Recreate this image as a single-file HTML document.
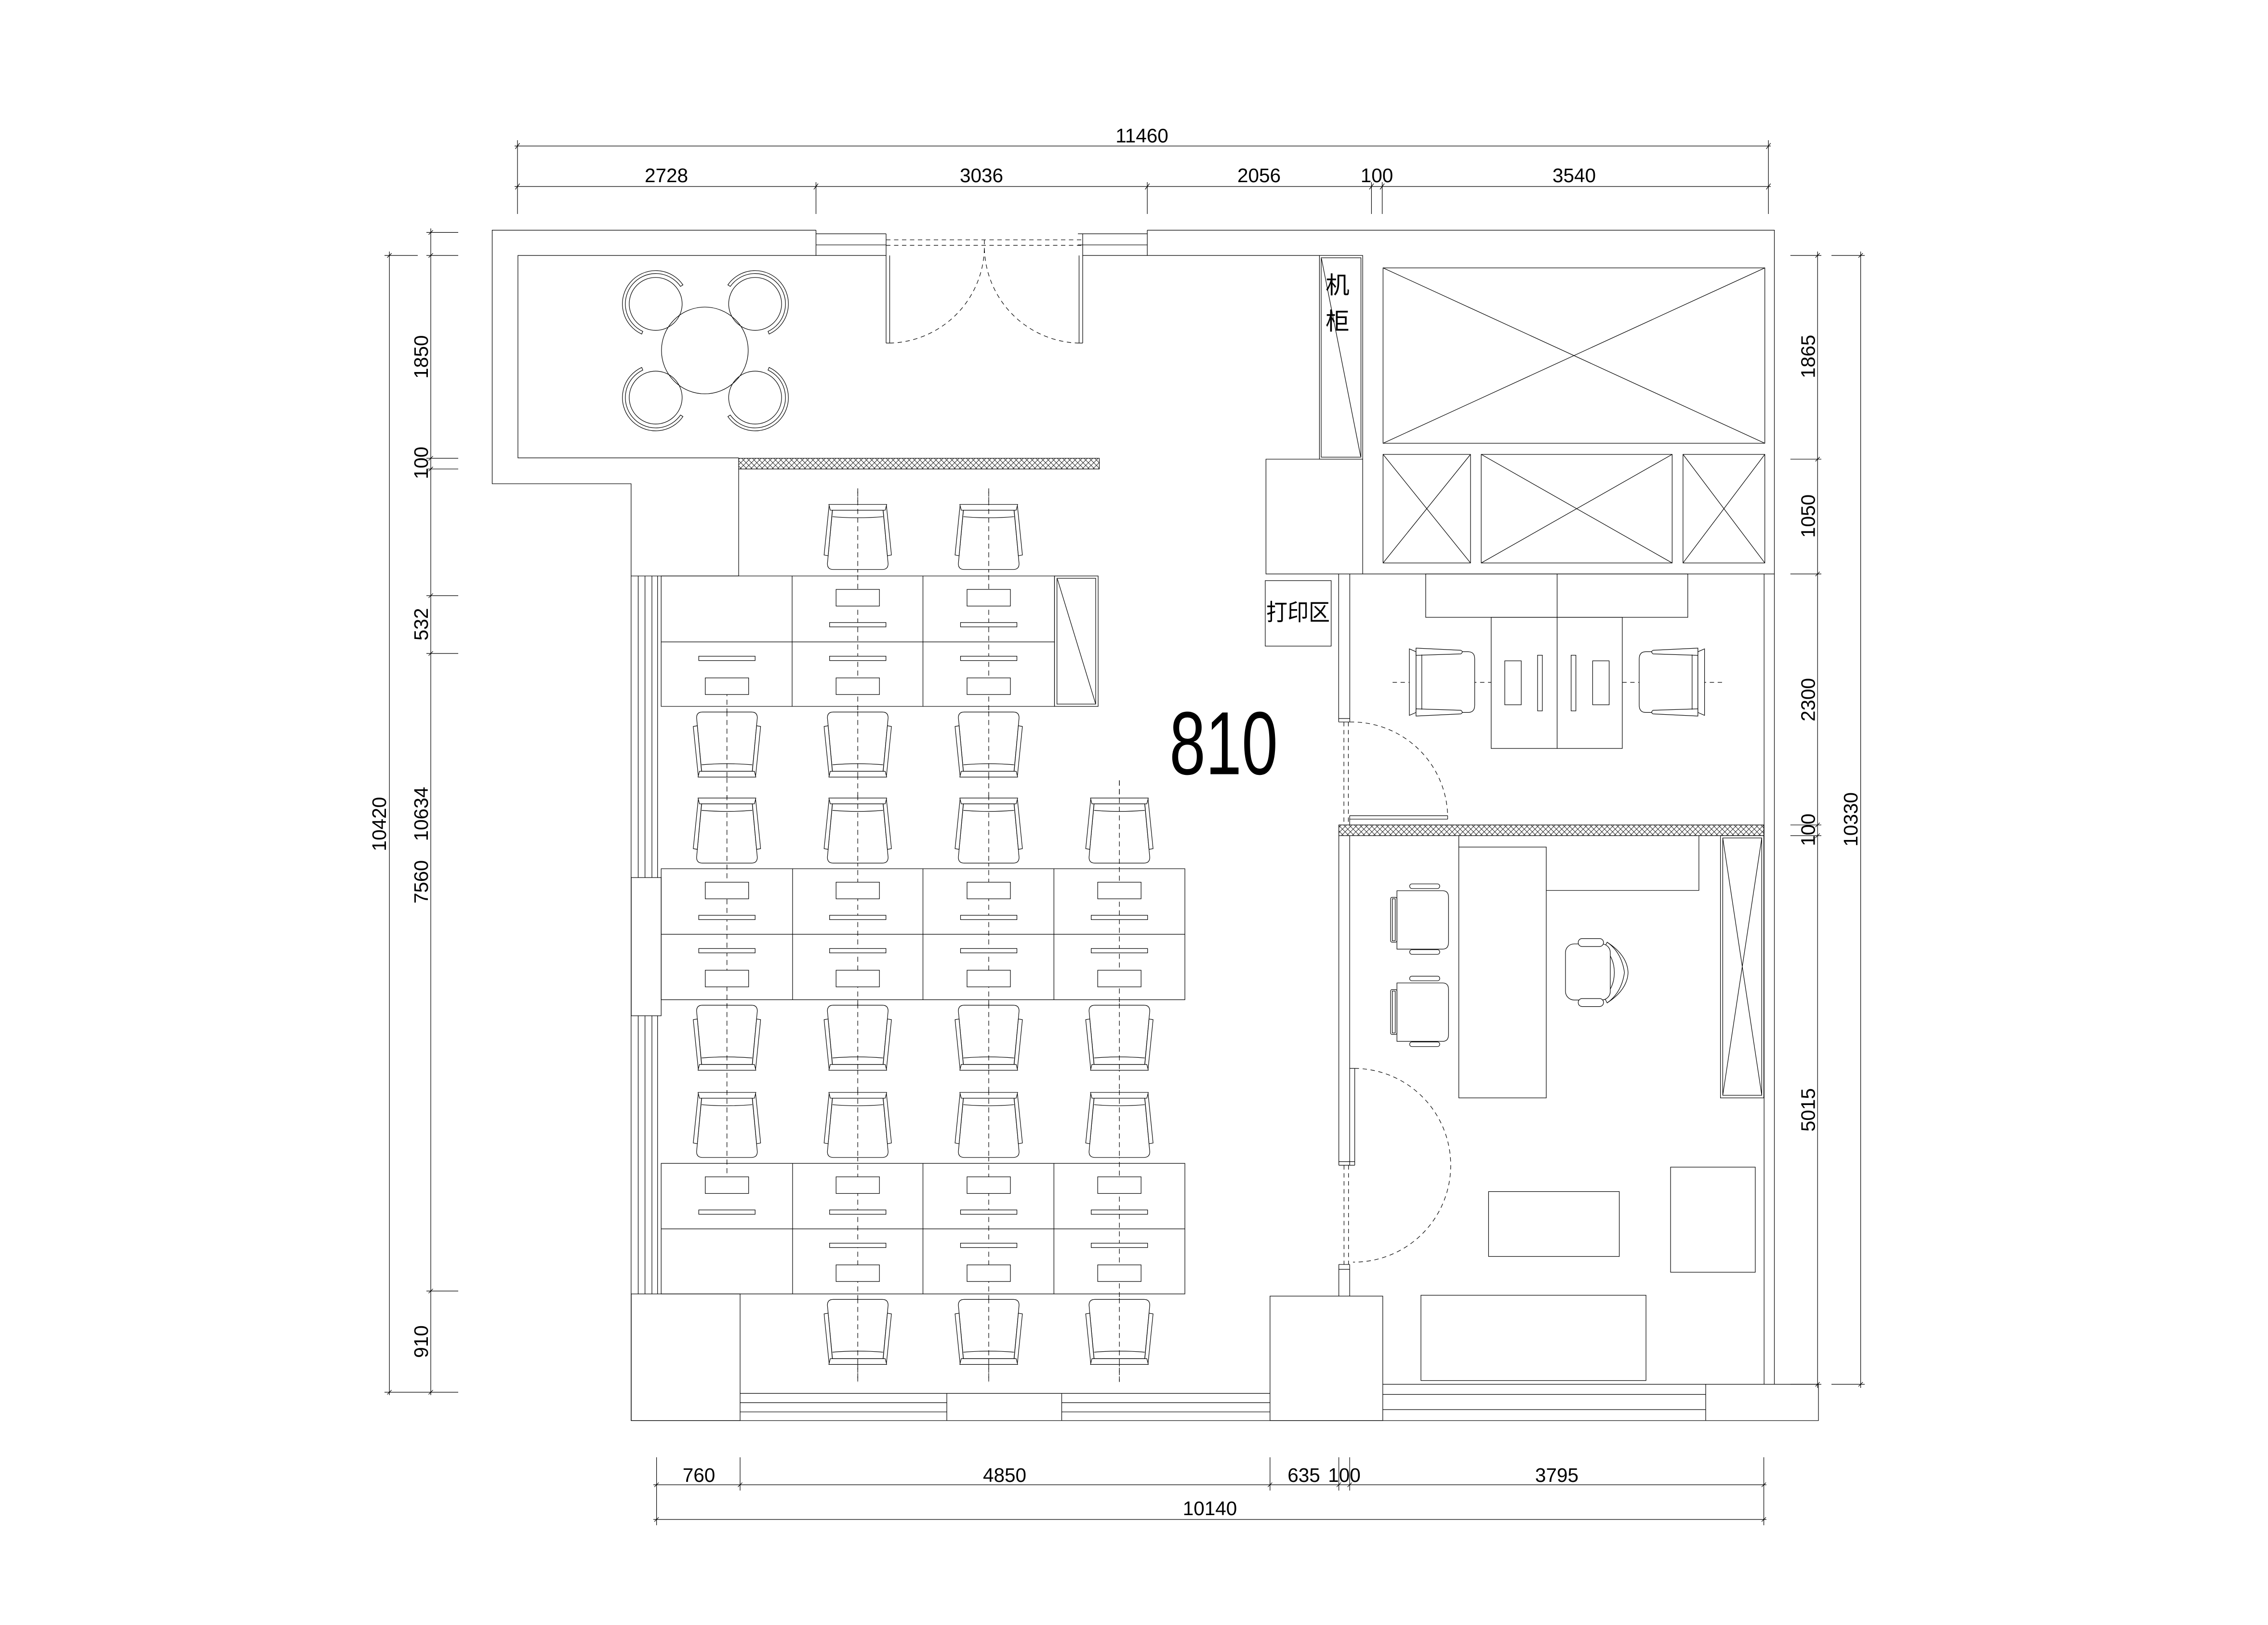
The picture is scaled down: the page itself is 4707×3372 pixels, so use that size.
<!DOCTYPE html>
<html><head><meta charset="utf-8"><style>
html,body{margin:0;padding:0;background:#fff;}
svg{display:block;}
text{font-family:"Liberation Sans","Noto Sans CJK SC",sans-serif;fill:#000;}
</style></head><body>
<svg xmlns="http://www.w3.org/2000/svg" width="4707" height="3372" viewBox="0 0 1569 1124">
<defs>
<pattern id="hat" patternUnits="userSpaceOnUse" width="3.7" height="3.7">
<path d="M0,0L3.7,3.7M3.7,0L0,3.7" stroke="#000" stroke-width="0.3"/>
</pattern>
<g id="chUp" fill="#fff" stroke="#000" stroke-width="0.4">
<path d="M-17.5,41 L-21,4 Q-21,0 -17,0 L17,0 Q21,0 21,4 L17.5,41 Z"/>
<path d="M-17.5,36.5 Q0,35 17.5,36.5" fill="none"/>
<path d="M-23.3,10 L-20.5,9.5 L-17.3,44 L-19.8,44.5 Z"/>
<path d="M23.3,10 L20.5,9.5 L17.3,44 L19.8,44.5 Z"/>
<path d="M-19,41 L19,41 L20,45 L-20,45 Z"/>
</g>
<g id="arm" fill="#fff" stroke="#000" stroke-width="0.4">
<path d="M-18,-21 L18,-21 Q22.6,-21 22.6,-16 L22.6,16 Q22.6,21 18,21 L-18,21 Z"/>
<path d="M-22.6,-23 L-18,-21 L-18,21 L-22.6,23 Z"/>
<path d="M-18,-23.5 L13,-22 Q15,-21 13,-19.5 L-18,-18.5 Z"/>
<path d="M-18,23.5 L13,22 Q15,21 13,19.5 L-18,18.5 Z"/>
<path d="M-14,-19 L-14,19" fill="none"/>
</g>
<g id="guest" fill="#fff" stroke="#000" stroke-width="0.4">
<path d="M-15.6,-19.6 L16,-19.6 Q20.1,-19.6 20.1,-15 L20.1,16 Q20.1,20.8 16,20.8 L-15.6,20.8 Z"/>
<rect x="-20" y="-15" width="4.4" height="31" rx="1"/>
<rect x="-18.8" y="-14" width="2" height="29"/>
<rect x="-6.8" y="-24.3" width="20.8" height="3.2" rx="1.5"/>
<rect x="-6.8" y="21.2" width="20.8" height="3.2" rx="1.5"/>
</g>
<g id="rarc" fill="none" stroke="#000" stroke-width="0.4">
<path d="M-20.3,5.4 A21 21 0 1 1 20.3,5.4 L22.2,6 A23 23 0 1 0 -22.2,6 Z"/>
</g>
</defs>
<rect width="1569" height="1124" fill="#fff"/>
<g fill="none" stroke="#000" stroke-width="0.4">
<!-- top dims -->
<path d="M356,101H1225M356,129H1225"/>
<path d="M358,97V148M564.5,126V148M793.7,126V148M948.8,126V148M956.2,126V148M1223.4,97V148"/>
<path d="M356.5,103L359.5,99M356.5,131L359.5,127M563,131L566,127M792.2,131L795.2,127M947.3,131L950.3,127M954.7,131L957.7,127M1221.9,103L1224.9,99M1221.9,131L1224.9,127"/>
<!-- left dims -->
<path d="M269.4,174V965M298,158V965"/>
<path d="M266,176.7H289M266,963H317M295,160.8H317M295,176.7H317M295,317H317M295,324.4H317M295,412H317M295,452H317M295,893H317"/>
<path d="M267.9,178.2L270.9,175.2M267.9,964.5L270.9,961.5M296.5,162.3L299.5,159.3M296.5,178.2L299.5,175.2M296.5,318.5L299.5,315.5M296.5,325.9L299.5,322.9M296.5,413.5L299.5,410.5M296.5,453.5L299.5,450.5M296.5,894.5L299.5,891.5M296.5,964.5L299.5,961.5"/>
<!-- right dims -->
<path d="M1257.4,174V960M1287.2,174V960"/>
<path d="M1238.6,176.7H1260M1238.6,317.6H1260M1238.6,397H1260M1238.6,570.6H1260M1238.6,578H1260M1238.6,957.5H1260M1267,176.7H1290M1267,957.5H1290"/>
<path d="M1255.9,178.2L1258.9,175.2M1255.9,319.1L1258.9,316.1M1255.9,398.5L1258.9,395.5M1255.9,572.1L1258.9,569.1M1255.9,579.5L1258.9,576.5M1255.9,959L1258.9,956M1285.7,178.2L1288.7,175.2M1285.7,959L1288.7,956"/>
<!-- bottom dims -->
<path d="M452,1027H1222M452,1051H1222"/>
<path d="M454.2,1008V1055M512,1008V1031M878.6,1008V1031M926.2,1008V1031M933.7,1008V1031M1220.2,1008V1055"/>
<path d="M452.7,1028.5L455.7,1025.5M510.5,1028.5L513.5,1025.5M877.1,1028.5L880.1,1025.5M924.7,1028.5L927.7,1025.5M932.2,1028.5L935.2,1025.5M1218.7,1028.5L1221.7,1025.5M452.7,1052.5L455.7,1049.5M1218.7,1052.5L1221.7,1049.5"/>

<!-- walls top-left -->
<path d="M564.5,159.2H340.5V334.6H436.6V982.6H1258V957.5H956.6"/>
<path d="M793.7,159.2H1227.5V957.5"/>
<path d="M1220.4,397V957.5"/>
<path d="M564.5,159.2V176.7M564.5,161.7H613M564.5,169.4H613M793.7,159.2V176.7M745.7,161.7H793.7M745.7,169.4H793.7"/>
<path d="M613,161.7V237.3M615.5,176.7V237.3M613,237.3H615.5M749,161.7V237.3M746.5,176.7V237.3M746.5,237.3H749"/>
<path d="M613,176.7H358.3V316.7H511M749,176.7H912.8"/>
<!-- doors top -->
<path d="M613,165.9H749M613,169.7H749M681,166V177M615.5,237.3A67 67 0 0 0 681,170M746.5,237.3A67 67 0 0 1 681,170" stroke-dasharray="3,2.5"/>
<!-- hatch bands -->
<rect x="511" y="317" width="249.5" height="7.4" fill="url(#hat)"/>
<rect x="926.2" y="570.6" width="294" height="7.4" fill="url(#hat)"/>
<path d="M511,324.4V398.4"/>
<!-- machine cabinet -->
<rect x="912.8" y="176.7" width="29.9" height="140.9"/>
<rect x="914" y="178.3" width="27.5" height="137.9"/>
<path d="M914.2,178.9L941.3,315.7"/>
<path d="M912.8,317.6H875.8V397H1227.5M942.7,317.6V397"/>
<!-- X boxes -->
<rect x="956.8" y="185.3" width="264.1" height="121.3"/>
<path d="M956.8,185.3L1220.9,306.6M1220.9,185.3L956.8,306.6"/>
<rect x="956.8" y="314.3" width="60.5" height="75.1"/>
<path d="M956.8,314.3L1017.3,389.4M1017.3,314.3L956.8,389.4"/>
<rect x="1024.7" y="314.3" width="132.1" height="75.1"/>
<path d="M1024.7,314.3L1156.8,389.4M1156.8,314.3L1024.7,389.4"/>
<rect x="1164.3" y="314.3" width="56.6" height="75.1"/>
<path d="M1164.3,314.3L1220.9,389.4M1220.9,314.3L1164.3,389.4"/>
<!-- print area -->
<rect x="875.3" y="401.6" width="45.6" height="45.3"/>
<!-- office1 partition & door -->
<path d="M926.1,397V499.4M933.8,397V499.4M926.1,499.4H933.8M926.1,497H933.8"/>
<path d="M929.7,499.4V570.6M932.8,499.4V570.6M933.8,499.4A66.5 66.5 0 0 1 1001.5,564.2" stroke-dasharray="3,2.5"/>
<path d="M933.7,564.2H1001.5M933.7,566.6H1001.5M1001.5,564.2V566.6M933.7,564.2V570.6"/>
<!-- office1 furniture -->
<rect x="986.3" y="397" width="181.3" height="30"/>
<path d="M1077.2,397V517.7"/>
<rect x="1031.6" y="427" width="90.7" height="90.7"/>
<rect x="1041" y="457.1" width="11.4" height="30.4"/>
<rect x="1063.7" y="453.2" width="3.3" height="38.5"/>
<rect x="1086.9" y="453.2" width="3.3" height="38.5"/>
<rect x="1101.8" y="457.1" width="11.4" height="30.4"/>
<path d="M963.4,472H1031.6M1122.3,472H1191.3" stroke-dasharray="3,2.5"/>
<!-- office2 partition -->
<path d="M926.2,578V806M933.7,578V806M937.2,739V806M926.2,806H937.2M926.2,803.5H937.2M933.7,739H937.2"/>
<path d="M929.8,806V874.6M932.9,806V874.6M937.2,739A67 67 0 0 1 936,873" stroke-dasharray="3,2.5"/>
<path d="M926.2,874.6V896.5M933.7,874.6V896.5M926.2,874.6H933.7M926.2,878H933.7"/>
<!-- office2 furniture -->
<rect x="1009.2" y="585.9" width="60.5" height="173.5"/>
<path d="M1009.2,578V585.9M1175.3,578V615.9H1069.7"/>
<rect x="1190.2" y="578" width="30" height="181.4"/>
<rect x="1191.8" y="579.6" width="27" height="178"/>
<path d="M1191.8,579.6L1218.8,757.6M1218.8,579.6L1191.8,757.6"/>
<rect x="1029.8" y="824.2" width="90.4" height="44.9"/>
<rect x="1155.7" y="807.3" width="58.6" height="72.7"/>
<rect x="983" y="895.9" width="155.7" height="59"/>
<!-- bottom right -->
<rect x="878.6" y="896.5" width="78" height="86.1"/>
<path d="M956.6,964.5H1180M956.6,975H1180M1180,957.5V982.6"/>
<!-- left walls/windows -->
<path d="M436.7,398.4H511M441.5,398.4V607M446.2,398.4V607M451,398.4V607M454.9,398.4V607M441.5,702.6V895M446.2,702.6V895M451,702.6V895M454.9,702.6V895"/>
<rect x="436.7" y="607" width="20.7" height="95.6"/>
<rect x="436.7" y="895" width="75.3" height="87.6"/>
<path d="M512,963.8H878.6M512,970.2H655M512,976.6H655M734.5,970.2H878.6M734.5,976.6H878.6M655,963.8V982.6M734.5,963.8V982.6"/>
<!-- dashed center lines -->
<g stroke-dasharray="3.5,2.5">
<path d="M502.9,478V812M593.4,337.8V955.9M684,337.8V955.9M774.4,539.7V955.9"/>
</g>
<!-- desks -->
<path d="M457.4,398.4H729.5V488.6H457.4ZM457.4,444H729.5M548,398.4V488.6M638.5,398.4V488.6"/>
<rect x="729.5" y="398.4" width="30.2" height="90.2"/>
<rect x="731.2" y="400" width="26.8" height="87"/>
<path d="M731.5,400.5L758,487"/>
<path d="M457.4,600.9H819.7V691.5H457.4ZM457.4,646.2H819.7M548.3,600.9V691.5M638.5,600.9V691.5M729.1,600.9V691.5"/>
<path d="M457.4,804.7H819.7V895H457.4ZM457.4,850H819.7M548.3,804.7V895M638.5,804.7V895M729.1,804.7V895"/>
</g>
<!-- monitors and keyboards -->
<g fill="#fff" stroke="#000" stroke-width="0.4">
<!-- desk1 top half cols2,3 -->
<rect x="578.4" y="407.7" width="30" height="11.5"/><rect x="573.9" y="430.6" width="39" height="3"/>
<rect x="669" y="407.7" width="30" height="11.5"/><rect x="664.5" y="430.6" width="39" height="3"/>
<!-- desk1 bottom half -->
<rect x="483.4" y="453.9" width="39" height="3"/><rect x="487.9" y="468.9" width="30" height="11.5"/>
<rect x="573.9" y="453.9" width="39" height="3"/><rect x="578.4" y="468.9" width="30" height="11.5"/>
<rect x="664.5" y="453.9" width="39" height="3"/><rect x="669" y="468.9" width="30" height="11.5"/>
<!-- desk2 top -->
<rect x="487.9" y="610.2" width="30" height="11.5"/><rect x="483.4" y="633.1" width="39" height="3"/>
<rect x="578.4" y="610.2" width="30" height="11.5"/><rect x="573.9" y="633.1" width="39" height="3"/>
<rect x="669" y="610.2" width="30" height="11.5"/><rect x="664.5" y="633.1" width="39" height="3"/>
<rect x="759.4" y="610.2" width="30" height="11.5"/><rect x="754.9" y="633.1" width="39" height="3"/>
<!-- desk2 bottom -->
<rect x="483.4" y="656.1" width="39" height="3"/><rect x="487.9" y="671.1" width="30" height="11.5"/>
<rect x="573.9" y="656.1" width="39" height="3"/><rect x="578.4" y="671.1" width="30" height="11.5"/>
<rect x="664.5" y="656.1" width="39" height="3"/><rect x="669" y="671.1" width="30" height="11.5"/>
<rect x="754.9" y="656.1" width="39" height="3"/><rect x="759.4" y="671.1" width="30" height="11.5"/>
<!-- desk3 top -->
<rect x="487.9" y="814" width="30" height="11.5"/><rect x="483.4" y="836.9" width="39" height="3"/>
<rect x="578.4" y="814" width="30" height="11.5"/><rect x="573.9" y="836.9" width="39" height="3"/>
<rect x="669" y="814" width="30" height="11.5"/><rect x="664.5" y="836.9" width="39" height="3"/>
<rect x="759.4" y="814" width="30" height="11.5"/><rect x="754.9" y="836.9" width="39" height="3"/>
<!-- desk3 bottom cols2-4 -->
<rect x="573.9" y="859.9" width="39" height="3"/><rect x="578.4" y="874.9" width="30" height="11.5"/>
<rect x="664.5" y="859.9" width="39" height="3"/><rect x="669" y="874.9" width="30" height="11.5"/>
<rect x="754.9" y="859.9" width="39" height="3"/><rect x="759.4" y="874.9" width="30" height="11.5"/>
</g>
<!-- chairs facing down (back top) -->
<use href="#chUp" transform="translate(593.4,393.9) scale(1,-1)"/>
<use href="#chUp" transform="translate(684,393.9) scale(1,-1)"/>
<use href="#chUp" transform="translate(502.9,597) scale(1,-1)"/>
<use href="#chUp" transform="translate(593.4,597) scale(1,-1)"/>
<use href="#chUp" transform="translate(684,597) scale(1,-1)"/>
<use href="#chUp" transform="translate(774.4,597) scale(1,-1)"/>
<use href="#chUp" transform="translate(502.9,800.6) scale(1,-1)"/>
<use href="#chUp" transform="translate(593.4,800.6) scale(1,-1)"/>
<use href="#chUp" transform="translate(684,800.6) scale(1,-1)"/>
<use href="#chUp" transform="translate(774.4,800.6) scale(1,-1)"/>
<!-- chairs facing up -->
<use href="#chUp" transform="translate(502.9,492.5)"/>
<use href="#chUp" transform="translate(593.4,492.5)"/>
<use href="#chUp" transform="translate(684,492.5)"/>
<use href="#chUp" transform="translate(502.9,695.3)"/>
<use href="#chUp" transform="translate(593.4,695.3)"/>
<use href="#chUp" transform="translate(684,695.3)"/>
<use href="#chUp" transform="translate(774.4,695.3)"/>
<use href="#chUp" transform="translate(593.4,898.8)"/>
<use href="#chUp" transform="translate(684,898.8)"/>
<use href="#chUp" transform="translate(774.4,898.8)"/>
<!-- dashed lines over chairs -->
<g fill="none" stroke="#000" stroke-width="0.4" stroke-dasharray="3.5,2.5">
<path d="M593.4,340V396M684,340V396M502.9,492V540M593.4,492V540M684,492V540M502.9,550V598M593.4,550V598M684,550V598M774.4,540V598M502.9,694V741M593.4,694V741M684,694V741M774.4,694V741M502.9,754V801M593.4,754V801M684,754V801M774.4,754V801M593.4,898V955.9M684,898V955.9M774.4,898V955.9"/>
</g>
<!-- office chairs -->
<use href="#arm" transform="translate(997.6,471.8)"/>
<use href="#arm" transform="translate(1156.6,471.8) scale(-1,1)"/>
<use href="#guest" transform="translate(982,635.7)"/>
<use href="#guest" transform="translate(982,699.5)"/>
<g fill="#fff" stroke="#000" stroke-width="0.4" transform="translate(1101.8,672.7)">
<path d="M10,-21 Q20,-14 22,0 Q20,14 10,21 L8,17 Q15,10 15,0 Q15,-10 8,-17 Z"/>
<path d="M10,-21 Q24,-12 24.5,0 Q24,12 10,21" fill="none"/>
<rect x="-18.8" y="-19.8" width="31" height="38.8" rx="6"/>
<rect x="-10" y="-23.5" width="17.5" height="5.5" rx="2.7"/>
<rect x="-10" y="18" width="17.5" height="5.5" rx="2.7"/>
</g>
<!-- round table -->
<g fill="none" stroke="#000" stroke-width="0.4">
<circle cx="453.6" cy="210.2" r="18.3"/>
<circle cx="522.4" cy="210.2" r="18.3"/>
<circle cx="453.6" cy="275" r="18.3"/>
<circle cx="522.4" cy="275" r="18.3"/>
<circle cx="487.6" cy="242.4" r="30"/>
</g>
<use href="#rarc" transform="translate(453.6,210.2) rotate(-50)"/>
<use href="#rarc" transform="translate(522.4,210.2) rotate(50)"/>
<use href="#rarc" transform="translate(453.6,275) rotate(-130)"/>
<use href="#rarc" transform="translate(522.4,275) rotate(130)"/>

<!-- texts -->
<g font-size="13.5">
<text x="790" y="98.5" text-anchor="middle">11460</text>
<text x="461" y="126" text-anchor="middle">2728</text>
<text x="679" y="126" text-anchor="middle">3036</text>
<text x="871" y="126" text-anchor="middle">2056</text>
<text x="952.5" y="126" text-anchor="middle">100</text>
<text x="1089" y="126" text-anchor="middle">3540</text>
<text x="483.5" y="1025" text-anchor="middle">760</text>
<text x="695" y="1025" text-anchor="middle">4850</text>
<text x="902" y="1025" text-anchor="middle">635</text>
<text x="930" y="1025" text-anchor="middle">100</text>
<text x="1077" y="1025" text-anchor="middle">3795</text>
<text x="837" y="1048" text-anchor="middle">10140</text>
<text transform="translate(296,246.9) rotate(-90)" text-anchor="middle">1850</text>
<text transform="translate(296,320.2) rotate(-90)" text-anchor="middle">100</text>
<text transform="translate(296,431.8) rotate(-90)" text-anchor="middle">532</text>
<text transform="translate(296,563) rotate(-90)" text-anchor="middle">10634</text>
<text transform="translate(296,610) rotate(-90)" text-anchor="middle">7560</text>
<text transform="translate(296,928) rotate(-90)" text-anchor="middle">910</text>
<text transform="translate(267,570) rotate(-90)" text-anchor="middle">10420</text>
<text transform="translate(1255.5,246.6) rotate(-90)" text-anchor="middle">1865</text>
<text transform="translate(1255.5,357) rotate(-90)" text-anchor="middle">1050</text>
<text transform="translate(1255.5,484) rotate(-90)" text-anchor="middle">2300</text>
<text transform="translate(1255.5,574) rotate(-90)" text-anchor="middle">100</text>
<text transform="translate(1255.5,767.7) rotate(-90)" text-anchor="middle">5015</text>
<text transform="translate(1285,566.8) rotate(-90)" text-anchor="middle">10330</text>
</g>
<text x="809" y="535.5" font-size="62" textLength="75" lengthAdjust="spacingAndGlyphs">810</text>
<text x="925.3" y="203" font-size="16.5" text-anchor="middle">机</text>
<text x="925.3" y="228" font-size="16.5" text-anchor="middle">柜</text>
<text x="898" y="429" font-size="16" text-anchor="middle" textLength="44" lengthAdjust="spacingAndGlyphs">打印区</text>
</svg>
</body></html>
